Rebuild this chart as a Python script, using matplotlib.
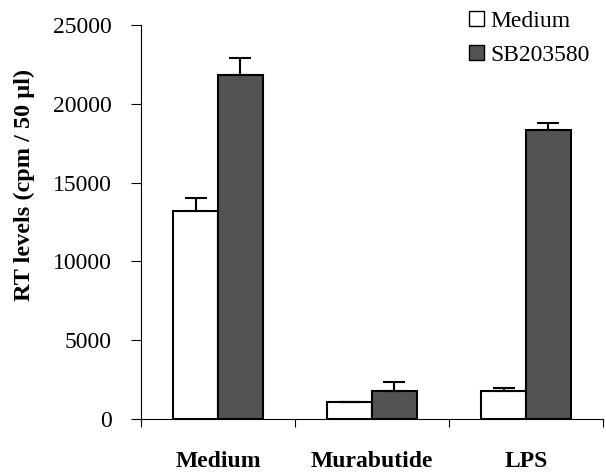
import numpy as np
import matplotlib.pyplot as plt
from matplotlib.patches import Patch

categories = ["Medium", "Murabutide", "LPS"]
medium_vals = [13200, 1100, 1800]
medium_err = [800, 0, 150]
sb_vals = [21800, 1800, 18350]
sb_err = [1100, 550, 400]

plt.rcParams["font.family"] = ["Liberation Serif", "DejaVu Serif"]

fig = plt.figure(figsize=(6.06, 4.73), dpi=100)
ax = fig.add_axes([141 / 606, 1 - 419 / 473, (603 - 141) / 606, (419 - 25) / 473])

x = np.arange(len(categories)) + 0.5
w = 0.29
dark = "#535353"
ax.bar(x - w / 2, medium_vals, w, color="white", edgecolor="black", linewidth=1.5)
ax.bar(x + w / 2, sb_vals, w, color=dark, edgecolor="black", linewidth=1.5)

err_style = dict(fmt="none", ecolor="black", elinewidth=1.5, capsize=8, capthick=1.5)
ax.errorbar(x - w / 2, np.array(medium_vals), yerr=[np.zeros(3), medium_err], **err_style)
ax.errorbar(x + w / 2, np.array(sb_vals), yerr=[np.zeros(3), sb_err], **err_style)

ax.set_xlim(0, 3)
ax.set_ylim(0, 25000)
ax.set_yticks(range(0, 25001, 5000))
ax.set_xticks([0, 1, 2, 3])
ax.set_xticklabels([])
ax.tick_params(axis="y", labelsize=17, length=7, direction="out", pad=14)
ax.tick_params(axis="x", length=6, direction="out")
for i, c in enumerate(categories):
    ax.text(x[i], -2700, c, ha="center", va="center", fontsize=17, fontweight="bold")

ax.spines["top"].set_visible(False)
ax.spines["right"].set_visible(False)
ax.set_ylabel("RT levels (cpm / 50 µl)", fontsize=17.5, fontweight="bold")
ax.yaxis.set_label_coords(-0.229, 0.594)

handles = [Patch(facecolor="white", edgecolor="black"),
           Patch(facecolor=dark, edgecolor="black")]
ax.legend(handles, ["Medium", "SB203580"], loc="upper left", bbox_to_anchor=(0.665, 1.09),
          frameon=False, fontsize=17, handlelength=0.6, handleheight=0.6,
          handletextpad=0.3, labelspacing=0.55)

fig.savefig("out.png", dpi=100)
